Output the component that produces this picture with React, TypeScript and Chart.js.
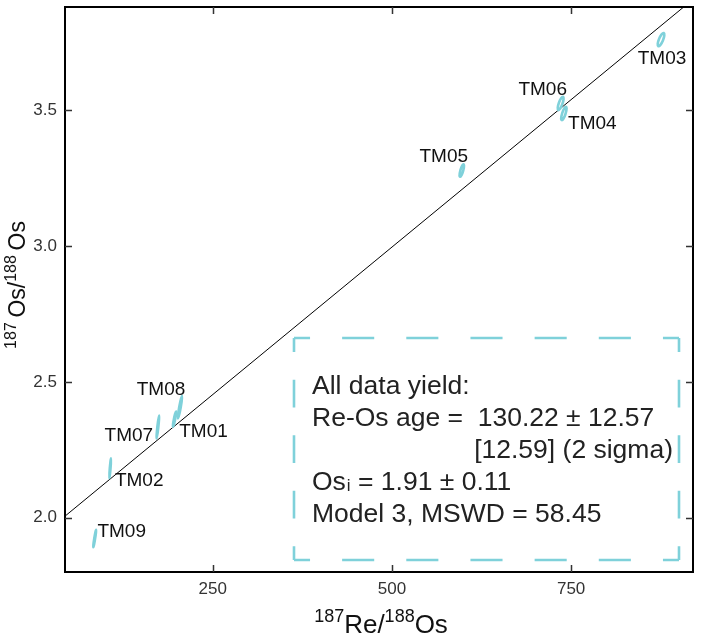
import React, { useEffect, useRef } from "react";
import { Chart, registerables } from "chart.js";
Chart.register(...registerables);

// ---- data ----
const sampleNames = ["TM01", "TM02", "TM03", "TM04", "TM05", "TM06", "TM07", "TM08", "TM09"];
const reOs = [196.8, 107.0, 875.4, 739.9, 597.5, 735.4, 173.5, 204.4, 85.4];
const osOs = [2.363, 2.182, 3.76, 3.488, 3.278, 3.525, 2.334, 2.407, 1.923];
const reOsErr = [2.3, 1.3, 4.65, 3.7, 3.07, 4.1, 1.8, 3.0, 2.0];
const osOsErr = [0.028, 0.037, 0.0245, 0.0245, 0.023, 0.0245, 0.042, 0.042, 0.032];
const errCorr = [0.92, 0.92, 0.75, 0.75, 0.75, 0.75, 0.92, 0.93, 0.95];
const xTicks = [250, 500, 750];
const yTicks = [2.0, 2.5, 3.0, 3.5];
const xRange = [44, 920];
const yRange = [1.8, 3.88];
const isochronIntercept = 1.91;
const isochronSlope = 0.002172;
const resultLines = [
  "All data yield:",
  "Re-Os age =  130.22 \u00b1 12.57",
  "[12.59] (2 sigma)",
  "= 1.91 \u00b1 0.11",
  "Model 3, MSWD = 58.45",
];

// ---- layout (pixels, not data) ----
const labelOffsets: [number, number][] = [
  [29, 11], [29, 10.5], [1, 18], [28.5, 9], [-18, -15.6], [-18, -15], [-29, 7], [-19, -18.7], [27, -8.4],
];
const FONT = '"Liberation Sans", Arial, Helvetica, sans-serif';
const TEAL = "#7fd1da";

function dashedSide(ctx: CanvasRenderingContext2D, x1: number, y1: number, x2: number, y2: number, target: number) {
  const L = Math.hypot(x2 - x1, y2 - y1);
  const n = Math.max(1, Math.round(L / target));
  const p = L / n;
  ctx.setLineDash([p / 2, p / 2]);
  ctx.lineDashOffset = p / 4;
  ctx.beginPath();
  ctx.moveTo(x1, y1);
  ctx.lineTo(x2, y2);
  ctx.stroke();
}

export default function App() {
  const ref = useRef<HTMLCanvasElement>(null);
  useEffect(() => {
    document.body.style.margin = "0";
    const canvas = ref.current!;

    const overlay = {
      id: "overlay",
      afterDatasetsDraw(chart: any) {
        const ctx: CanvasRenderingContext2D = chart.ctx;
        const xs = chart.scales.x;
        const ys = chart.scales.y;
        const kx = Math.abs(xs.getPixelForValue(1) - xs.getPixelForValue(0));
        const ky = Math.abs(ys.getPixelForValue(1) - ys.getPixelForValue(0));
        ctx.save();
        // error ellipses
        ctx.strokeStyle = TEAL;
        ctx.lineWidth = 2.6;
        for (let i = 0; i < reOs.length; i++) {
          const cx = xs.getPixelForValue(reOs[i]);
          const cy = ys.getPixelForValue(osOs[i]);
          const sx = reOsErr[i] * kx;
          const sy = osOsErr[i] * ky;
          const a = sx * sx;
          const b = sy * sy;
          const c = -errCorr[i] * sx * sy;
          const m = (a + b) / 2;
          const d = Math.sqrt(((a - b) / 2) ** 2 + c * c);
          const l1 = m + d;
          const l2 = Math.max(m - d, 0);
          const th = 0.5 * Math.atan2(2 * c, a - b);
          ctx.beginPath();
          ctx.ellipse(cx, cy, Math.sqrt(l1), Math.sqrt(l2), th, 0, Math.PI * 2);
          ctx.stroke();
        }
        // sample labels
        ctx.fillStyle = "#111";
        ctx.font = `19px ${FONT}`;
        ctx.textAlign = "center";
        ctx.textBaseline = "alphabetic";
        for (let i = 0; i < reOs.length; i++) {
          const cx = xs.getPixelForValue(reOs[i]);
          const cy = ys.getPixelForValue(osOs[i]);
          ctx.fillText(sampleNames[i], cx + labelOffsets[i][0], cy + labelOffsets[i][1] + 6.8);
        }
        ctx.restore();
      },
      afterDraw(chart: any) {
        const ctx: CanvasRenderingContext2D = chart.ctx;
        const { left, right, top, bottom } = chart.chartArea;
        const xs = chart.scales.x;
        const ys = chart.scales.y;
        ctx.save();
        // frame
        ctx.strokeStyle = "#000";
        ctx.lineWidth = 2;
        ctx.strokeRect(left, top, right - left, bottom - top);
        // inward ticks on all sides
        ctx.strokeStyle = "#333";
        ctx.lineWidth = 1.5;
        const tl = 7;
        ctx.beginPath();
        for (const v of xTicks) {
          const px = Math.round(xs.getPixelForValue(v)) + 0.5;
          ctx.moveTo(px, bottom);
          ctx.lineTo(px, bottom - tl);
          ctx.moveTo(px, top);
          ctx.lineTo(px, top + tl);
        }
        for (const v of yTicks) {
          const py = Math.round(ys.getPixelForValue(v)) + 0.5;
          ctx.moveTo(left, py);
          ctx.lineTo(left + tl, py);
          ctx.moveTo(right, py);
          ctx.lineTo(right - tl, py);
        }
        ctx.stroke();

        // axis titles
        ctx.fillStyle = "#111";
        ctx.textBaseline = "alphabetic";
        ctx.textAlign = "left";
        const drawTitle = (segs: [string, boolean][], bigPx: number, supPx: number, supRise: number, cx: number, y0: number) => {
          let w = 0;
          for (const [t, s] of segs) {
            ctx.font = `${s ? supPx : bigPx}px ${FONT}`;
            w += ctx.measureText(t).width;
          }
          let x = cx - w / 2;
          for (const [t, s] of segs) {
            ctx.font = `${s ? supPx : bigPx}px ${FONT}`;
            ctx.fillText(t, x, s ? y0 - supRise : y0);
            x += ctx.measureText(t).width;
          }
        };
        drawTitle([["187", true], ["Re/", false], ["188", true], ["Os", false]], 26, 18, 11, 381, 633);
        ctx.save();
        ctx.translate(25, 285);
        ctx.rotate(-Math.PI / 2);
        drawTitle([["187", true], ["\u2009Os/", false], ["188", true], ["\u2009Os", false]], 23, 16, 9, 0, 0);
        ctx.restore();

        // result box
        const bx1 = left + 229, bx2 = left + 614, by1 = top + 331, by2 = top + 553;
        ctx.strokeStyle = TEAL;
        ctx.lineWidth = 2.6;
        dashedSide(ctx, bx1, by1, bx2, by1, 64);
        dashedSide(ctx, bx1, by2, bx2, by2, 64);
        dashedSide(ctx, bx1, by1, bx1, by2, 55);
        dashedSide(ctx, bx2, by1, bx2, by2, 55);
        ctx.setLineDash([]);

        ctx.fillStyle = "#222";
        const F = 26.5;
        ctx.font = `${F}px ${FONT}`;
        const tx = bx1 + 18;
        ctx.textAlign = "left";
        ctx.fillText(resultLines[0], tx, by1 + 56);
        ctx.fillText(resultLines[1], tx, by1 + 88);
        ctx.textAlign = "right";
        ctx.fillText(resultLines[2], bx2 - 6, by1 + 120);
        ctx.textAlign = "left";
        ctx.fillText("Os", tx, by1 + 152);
        const osw = ctx.measureText("Os").width;
        ctx.font = `17px ${FONT}`;
        ctx.fillText("i", tx + osw + 1, by1 + 153);
        const iw = ctx.measureText("i").width;
        ctx.font = `${F}px ${FONT}`;
        ctx.fillText(" " + resultLines[3], tx + osw + 1 + iw, by1 + 152);
        ctx.fillText(resultLines[4], tx, by1 + 184);
        ctx.restore();
      },
    };

    const chart = new Chart(canvas, {
      type: "scatter",
      data: {
        datasets: [
          {
            type: "line",
            data: [
              { x: xRange[0], y: isochronIntercept + isochronSlope * xRange[0] },
              { x: xRange[1], y: isochronIntercept + isochronSlope * xRange[1] },
            ],
            borderColor: "#000",
            borderWidth: 1,
            pointRadius: 0,
            fill: false,
          } as any,
          {
            data: reOs.map((x, i) => ({ x, y: osOs[i] })),
            pointRadius: 0,
            showLine: false,
          },
        ],
      },
      options: {
        responsive: false,
        animation: false,
        devicePixelRatio: 1,
        layout: { padding: { left: 0, top: 7, right: 13, bottom: 0 } },
        plugins: { legend: { display: false }, tooltip: { enabled: false }, title: { display: false } },
        scales: {
          x: {
            type: "linear",
            min: xRange[0],
            max: xRange[1],
            grid: { display: false, drawTicks: false },
            border: { display: false },
            afterBuildTicks: (s: any) => {
              s.ticks = xTicks.map((v) => ({ value: v }));
            },
            afterFit: (s: any) => {
              s.height = 67;
              s.paddingLeft = 0;
              s.paddingRight = 0;
            },
            ticks: {
              padding: 7,
              font: { family: FONT, size: 17 },
              color: "#333",
              maxRotation: 0,
              autoSkip: false,
              callback: (v: any) => String(v),
            },
          },
          y: {
            type: "linear",
            min: yRange[0],
            max: yRange[1],
            grid: { display: false, drawTicks: false },
            border: { display: false },
            afterBuildTicks: (s: any) => {
              s.ticks = yTicks.map((v) => ({ value: v }));
            },
            afterFit: (s: any) => {
              s.width = 65;
              s.paddingTop = 0;
              s.paddingBottom = 0;
            },
            ticks: {
              padding: 8,
              font: { family: FONT, size: 17 },
              color: "#333",
              autoSkip: false,
              callback: (v: any) => Number(v).toFixed(1),
            },
          },
        },
      } as any,
      plugins: [overlay],
    });
    return () => chart.destroy();
  }, []);
  return <canvas ref={ref} width={706} height={639} style={{ display: "block" }} />;
}
